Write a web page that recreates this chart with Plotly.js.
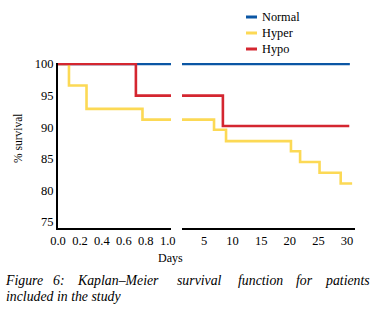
<!DOCTYPE html>
<html><head><meta charset="utf-8">
<script src="https://cdn.plot.ly/plotly-3.0.1.min.js"></script>
<style>html,body{margin:0;padding:0;background:#fff}</style>
</head><body><div id="chart"></div>
<script>
// ---- data ----
const seriesNames = ['Normal', 'Hyper', 'Hypo'];
const normalDays = [0, 30.5];
const normalSurv = [100, 100];
const hyperDays = [0, 0.1, 0.26, 0.77, 6.75, 8.85, 20.2, 21.8, 25.2, 28.9, 30.9];
const hyperSurv = [100, 96.6, 92.9, 91.2, 89.6, 87.8, 86.2, 84.5, 82.8, 81.1, 81.1];
const hypoDays = [0, 0.71, 8.3, 30.4];
const hypoSurv = [100, 95, 90.2, 90.2];
const leftTickVals = [0, 0.2, 0.4, 0.6, 0.8, 1.0];
const leftTickText = ['0.0', '0.2', '0.4', '0.6', '0.8', '1.0'];
const rightTickVals = [5, 10, 15, 20, 25, 30];
const yTickVals = [75, 80, 85, 90, 95, 100];
const xTitleText = 'Days';
const yTitleText = '% survival';
const captionLine1 = ['Figure', '6:', 'Kaplan–Meier', 'survival', 'function', 'for', 'patients'];
const captionLine2 = 'included in the study';

// ---- styling / layout ----
const colors = ['#0b56a4', '#fcd955', '#d42630'];
const W = 375, H = 310, ML = 58, MR = 20, MT = 63, MB = 82;
const fx = p => (p - ML) / (W - ML - MR);
const fy = p => (H - MB - p) / (H - MT - MB);
const FAM = 'Liberation Serif';

const series = [[normalDays, normalSurv], [hyperDays, hyperSurv], [hypoDays, hypoSurv]];
const traces = [];
series.forEach((s, i) => {
  ['x', 'x2'].forEach(ax => {
    traces.push({
      x: s[0], y: s[1], xaxis: ax, yaxis: 'y', type: 'scatter', mode: 'lines',
      name: seriesNames[i], showlegend: false, hoverinfo: 'skip',
      line: {shape: 'hv', color: colors[i], width: 2.6}
    });
  });
});

function axisBase() {
  return {showline: true, linecolor: '#000', linewidth: 2, ticks: '', showgrid: false, zeroline: false,
          tickfont: {family: FAM, size: 12.5, color: '#000'}};
}

const shapes = [];
const annotations = [];
const legendY = [17, 33, 49];
seriesNames.forEach((n, i) => {
  shapes.push({type: 'line', xref: 'paper', yref: 'paper', x0: fx(246), x1: fx(257), y0: fy(legendY[i]), y1: fy(legendY[i]), line: {color: colors[i], width: 3}});
  annotations.push({text: n, xref: 'paper', yref: 'paper', x: fx(260), y: fy(legendY[i]), xanchor: 'left', yanchor: 'middle', showarrow: false, font: {family: FAM, size: 12.3, color: '#000'}});
});
annotations.push({text: xTitleText, xref: 'paper', yref: 'paper', x: fx(170.5), y: fy(257.5), xanchor: 'center', yanchor: 'middle', showarrow: false, font: {family: FAM, size: 12, color: '#000'}});
annotations.push({text: yTitleText, xref: 'paper', yref: 'paper', x: fx(18), y: fy(138), textangle: -90, xanchor: 'center', yanchor: 'middle', showarrow: false, font: {family: FAM, size: 11.5, color: '#000'}});
const wordCenters = [24, 59, 118, 199, 260, 304, 347.5];
captionLine1.forEach((w, i) => {
  annotations.push({text: '<i>' + w + '</i>', xref: 'paper', yref: 'paper', x: fx(wordCenters[i]), y: fy(280), xanchor: 'center', yanchor: 'middle', borderpad: 0, showarrow: false, font: {family: FAM, size: 13.8, color: '#000'}});
});
annotations.push({text: '<i>' + captionLine2 + '</i>', xref: 'paper', yref: 'paper', x: fx(5), y: fy(296.5), xanchor: 'left', yanchor: 'middle', borderpad: 0, showarrow: false, font: {family: FAM, size: 13.8, color: '#000'}});

const layout = {
  width: W, height: H,
  margin: {l: ML, r: MR, t: MT, b: MB, pad: 0},
  paper_bgcolor: '#fff', plot_bgcolor: '#fff',
  showlegend: false,
  xaxis: Object.assign(axisBase(), {domain: [0, fx(171)], range: [0, 1.03], tickvals: leftTickVals, ticktext: leftTickText, anchor: 'y'}),
  xaxis2: Object.assign(axisBase(), {domain: [fx(182), 1], range: [1.15, 31.4], tickvals: rightTickVals, anchor: 'y'}),
  yaxis: Object.assign(axisBase(), {range: [74.05, 100.16], tickvals: yTickVals, anchor: 'x'}),
  shapes: shapes,
  annotations: annotations
};

Plotly.newPlot('chart', traces, layout, {displayModeBar: false});
</script>
</body></html>
